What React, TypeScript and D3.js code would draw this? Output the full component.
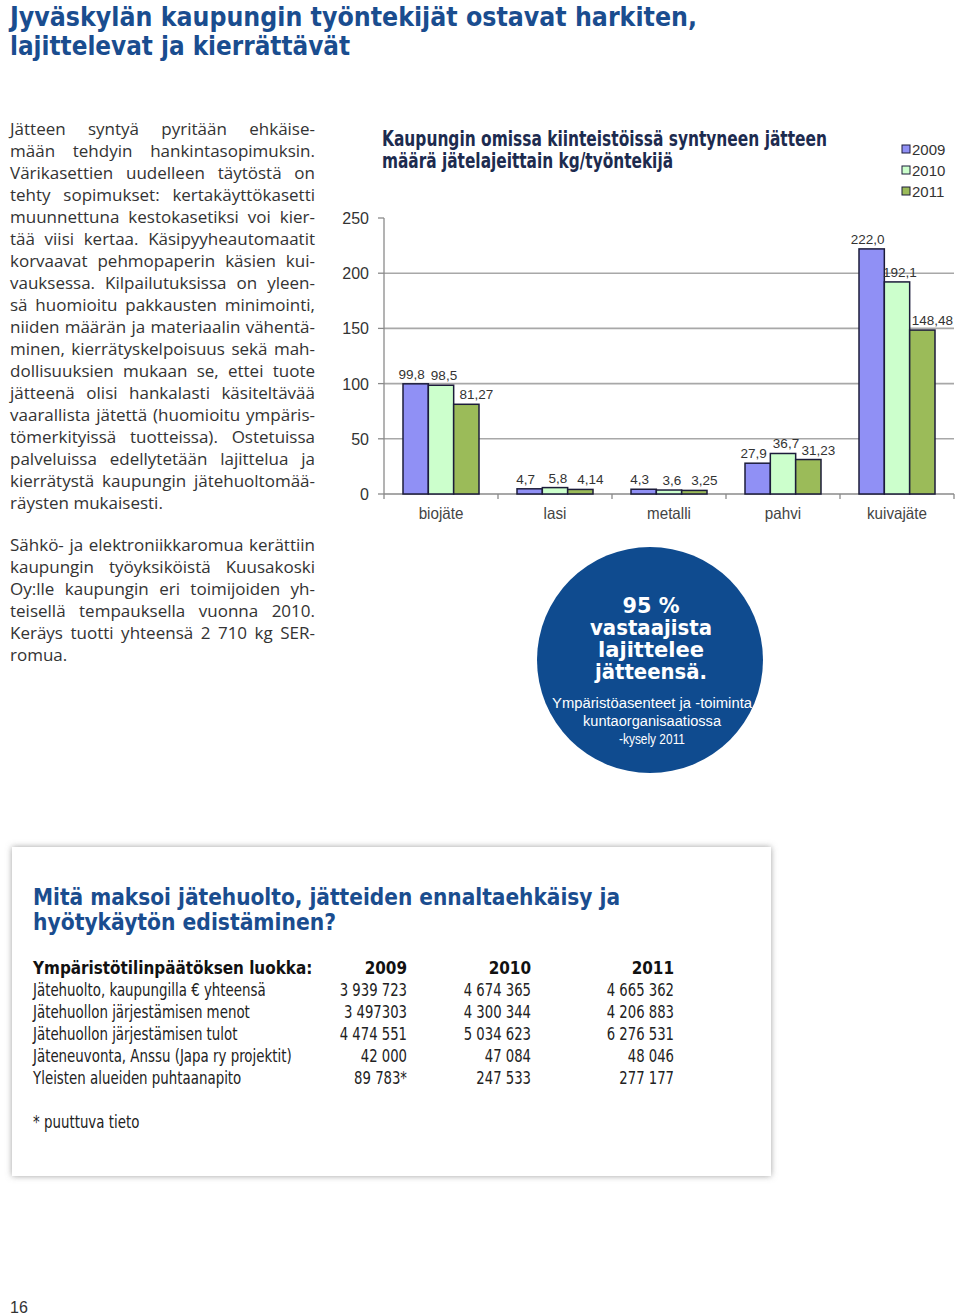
import React, { useEffect, useRef } from "react";
import * as d3 from "d3";

// ---------- data ----------
const categories = ["biojäte", "lasi", "metalli", "pahvi", "kuivajäte"];
const years = ["2009", "2010", "2011"];
const values2009 = [99.8, 4.7, 4.3, 27.9, 222.0];
const values2010 = [98.5, 5.8, 3.6, 36.7, 192.1];
const values2011 = [81.27, 4.14, 3.25, 31.23, 148.48];
const seriesDecimals = [1, 1, 2];
const yTicks = [0, 50, 100, 150, 200, 250];

const headingLines = ["Jyväskylän kaupungin työntekijät ostavat harkiten,", "lajittelevat ja kierrättävät"];
const chartTitleLines = ["Kaupungin omissa kiinteistöissä syntyneen jätteen", "määrä jätelajeittain kg/työntekijä"];

const paragraph1 = [
  "Jätteen syntyä pyritään ehkäise-",
  "mään tehdyin hankintasopimuksin.",
  "Värikasettien uudelleen täytöstä on",
  "tehty sopimukset: kertakäyttökasetti",
  "muunnettuna kestokasetiksi voi kier-",
  "tää viisi kertaa. Käsipyyheautomaatit",
  "korvaavat pehmopaperin käsien kui-",
  "vauksessa. Kilpailutuksissa on yleen-",
  "sä huomioitu pakkausten minimointi,",
  "niiden määrän ja materiaalin vähentä-",
  "minen, kierrätyskelpoisuus sekä mah-",
  "dollisuuksien mukaan se, ettei tuote",
  "jätteenä olisi hankalasti käsiteltävää",
  "vaarallista jätettä (huomioitu ympäris-",
  "tömerkityissä tuotteissa). Ostetuissa",
  "palveluissa edellytetään lajittelua ja",
  "kierrätystä kaupungin jätehuoltomää-",
  "räysten mukaisesti.",
];
const paragraph2 = [
  "Sähkö- ja elektroniikkaromua kerättiin",
  "kaupungin työyksiköistä Kuusakoski",
  "Oy:lle kaupungin eri toimijoiden yh-",
  "teisellä tempauksella vuonna 2010.",
  "Keräys tuotti yhteensä 2 710 kg SER-",
  "romua.",
];

const circleMain = ["95 %", "vastaajista", "lajittelee", "jätteensä."];
const circleSub = ["Ympäristöasenteet ja -toiminta", "kuntaorganisaatiossa", "-kysely 2011"];

const boxTitleLines = ["Mitä maksoi jätehuolto, jätteiden ennaltaehkäisy ja", "hyötykäytön edistäminen?"];
const tableHeader = "Ympäristötilinpäätöksen luokka:";
const tableYears = ["2009", "2010", "2011"];
const rowLabels = [
  "Jätehuolto, kaupungilla € yhteensä",
  "Jätehuollon järjestämisen menot",
  "Jätehuollon järjestämisen tulot",
  "Jäteneuvonta, Anssu (Japa ry projektit)",
  "Yleisten alueiden puhtaanapito",
];
const costs2009 = ["3 939 723", "3 497303", "4 474 551", "42 000", "89 783*"];
const costs2010 = ["4 674 365", "4 300 344", "5 034 623", "47 084", "247 533"];
const costs2011 = ["4 665 362", "4 206 883", "6 276 531", "48 046", "277 177"];
const footnote = "* puuttuva tieto";
const pageNumber = "16";

// ---------- styles ----------
const NARROW = "'Liberation Sans Narrow', 'DejaVu Sans Condensed', 'Liberation Sans', sans-serif";
const SANS = "'Liberation Sans', Arial, sans-serif";
const BODY = "'Open Sans', 'Liberation Sans', sans-serif";
const BLUE = "#1a4d8f";
const NAVY = "#1d2b4f";
const TEXT = "#333333";
const seriesColors = ["#9090f5", "#ccffcc", "#9bbb59"];
const labelDx = [-4, 3, 10];

type Sel = d3.Selection<SVGTextElement, unknown, null, undefined>;
const condense = (el: Sel, k: number) => {
  const w = (el.node() as SVGTextElement).getComputedTextLength();
  el.attr("textLength", w * k).attr("lengthAdjust", "spacingAndGlyphs");
};

export default function App() {
  const ref = useRef<SVGSVGElement | null>(null);

  useEffect(() => {
    document.body.style.margin = "0";
    const svg = d3.select(ref.current);
    svg.selectAll("*").remove();

    const defs = svg.append("defs");
    const f = defs.append("filter").attr("id", "shadow").attr("x", "-5%").attr("y", "-5%").attr("width", "110%").attr("height", "110%");
    f.append("feDropShadow").attr("dx", 0).attr("dy", 0).attr("stdDeviation", 3).attr("flood-color", "#7a7a7a").attr("flood-opacity", 0.7);

    svg.append("rect").attr("width", 960).attr("height", 1316).attr("fill", "#fff");

    // ---- page heading ----
    const headW = [687, 340];
    headingLines.forEach((t, i) => {
      svg.append("text").attr("x", 10).attr("y", 26 + i * 29).text(t)
        .attr("font-family", NARROW).attr("font-weight", "bold").attr("font-size", 27)
        .attr("fill", BLUE).attr("textLength", headW[i]).attr("lengthAdjust", "spacingAndGlyphs");
    });

    // ---- justified paragraphs ----
    const justify = (lines: string[], y0: number) => {
      lines.forEach((t, i) => {
        const el = svg.append("text").attr("x", 10).attr("y", y0 + i * 22).text(t)
          .attr("font-family", BODY).attr("font-size", 17).attr("fill", TEXT);
        if (i < lines.length - 1) {
          const node = el.node() as SVGTextElement;
          const w = node.getComputedTextLength();
          const spaces = (t.match(/ /g) || []).length;
          if (w > 305) {
            el.attr("textLength", 305).attr("lengthAdjust", "spacingAndGlyphs");
          } else if (spaces > 0) {
            el.style("word-spacing", `${(305 - w) / spaces}px`);
          }
        }
      });
    };
    justify(paragraph1, 135);
    justify(paragraph2, 551);

    // ---- chart ----
    const x0 = d3.scaleBand<string>().domain(categories).range([384, 954]);
    const x1 = d3.scaleBand<string>().domain(years).range([19, 95]);
    const y = d3.scaleLinear().domain([0, 250]).range([494, 218]);
    const g = svg.append("g");

    const ctW = [445, 291];
    chartTitleLines.forEach((t, i) => {
      g.append("text").attr("x", 382).attr("y", 146 + i * 22).text(t)
        .attr("font-family", NARROW).attr("font-weight", "bold").attr("font-size", 20.5)
        .attr("fill", NAVY).attr("textLength", ctW[i]).attr("lengthAdjust", "spacingAndGlyphs");
    });

    yTicks.filter((v) => v > 0 && v < 250).forEach((v) => {
      g.append("line").attr("x1", 384).attr("x2", 954).attr("y1", y(v)).attr("y2", y(v))
        .attr("stroke", "#a8a8a8").attr("stroke-width", 1.6);
    });
    g.append("line").attr("x1", 384).attr("x2", 384).attr("y1", y(250)).attr("y2", y(0)).attr("stroke", "#8a8a8a").attr("stroke-width", 1.3);
    yTicks.forEach((v) => {
      g.append("line").attr("x1", 378).attr("x2", 384).attr("y1", y(v)).attr("y2", y(v)).attr("stroke", "#8a8a8a").attr("stroke-width", 1.3);
      g.append("text").attr("x", 369).attr("y", y(v) + 6).attr("text-anchor", "end").text(String(v))
        .attr("font-family", SANS).attr("font-size", 16).attr("fill", "#333");
    });
    g.append("line").attr("x1", 384).attr("x2", 954).attr("y1", y(0)).attr("y2", y(0)).attr("stroke", "#8a8a8a").attr("stroke-width", 1.3);
    categories.forEach((c, i) => {
      const xs = x0(c)!;
      g.append("line").attr("x1", xs).attr("x2", xs).attr("y1", y(0)).attr("y2", y(0) + 5).attr("stroke", "#8a8a8a").attr("stroke-width", 1.3);
      if (i === categories.length - 1) {
        const xe = xs + x0.bandwidth();
        g.append("line").attr("x1", xe).attr("x2", xe).attr("y1", y(0)).attr("y2", y(0) + 5).attr("stroke", "#8a8a8a").attr("stroke-width", 1.3);
      }
      const lt = g.append("text").attr("x", xs + x0.bandwidth() / 2).attr("y", 519).attr("text-anchor", "middle").text(c)
        .attr("font-family", SANS).attr("font-size", 16.5).attr("fill", "#444");
      condense(lt as unknown as Sel, 0.92);
    });

    const series = [values2009, values2010, values2011];
    series.forEach((vals, si) => {
      vals.forEach((v, ci) => {
        const bx = x0(categories[ci])! + x1(years[si])!;
        const bw = x1.bandwidth();
        g.append("rect").attr("x", bx).attr("y", y(v)).attr("width", bw).attr("height", y(0) - y(v))
          .attr("fill", seriesColors[si]).attr("stroke", "#1c1c3a").attr("stroke-width", 1.5);
        g.append("text").attr("x", bx + bw / 2 + labelDx[si]).attr("y", y(v) - 5).attr("text-anchor", "middle")
          .text(v.toFixed(seriesDecimals[si]).replace(".", ","))
          .attr("font-family", SANS).attr("font-size", 13.5).attr("fill", "#333");
      });
    });

    years.forEach((yr, i) => {
      const ly = 149 + i * 21;
      g.append("rect").attr("x", 902).attr("y", ly - 4).attr("width", 8).attr("height", 8)
        .attr("fill", seriesColors[i]).attr("stroke", "#1c1c3a").attr("stroke-width", 1);
      g.append("text").attr("x", 912).attr("y", ly + 5.5).text(yr)
        .attr("font-family", SANS).attr("font-size", 15).attr("fill", "#333");
    });

    // ---- circle ----
    svg.append("circle").attr("cx", 650).attr("cy", 660).attr("r", 113).attr("fill", "#0f4b8f");
    const cmW = [57, 122, 106, 112];
    circleMain.forEach((t, i) => {
      svg.append("text").attr("x", 651).attr("y", 613 + i * 22).attr("text-anchor", "middle").text(t)
        .attr("font-family", "'DejaVu Sans', sans-serif").attr("font-weight", "bold").attr("font-size", 21)
        .attr("fill", "#fff").attr("textLength", cmW[i]).attr("lengthAdjust", "spacingAndGlyphs");
    });
    const csW = [200, 138, 66];
    circleSub.forEach((t, i) => {
      svg.append("text").attr("x", 652).attr("y", 708 + i * 18).attr("text-anchor", "middle").text(t)
        .attr("font-family", SANS).attr("font-size", 14).attr("fill", "#fff")
        .attr("textLength", csW[i]).attr("lengthAdjust", "spacingAndGlyphs");
    });

    // ---- box ----
    svg.append("rect").attr("x", 12).attr("y", 847).attr("width", 759).attr("height", 329)
      .attr("fill", "#fff").attr("filter", "url(#shadow)");
    const btW = [587, 303];
    boxTitleLines.forEach((t, i) => {
      svg.append("text").attr("x", 33).attr("y", 905 + i * 25).text(t)
        .attr("font-family", NARROW).attr("font-weight", "bold").attr("font-size", 22.5)
        .attr("fill", BLUE).attr("textLength", btW[i]).attr("lengthAdjust", "spacingAndGlyphs");
    });
    const colRight = [407, 531, 674];
    const hd = svg.append("text").attr("x", 33).attr("y", 974).text(tableHeader)
      .attr("font-family", NARROW).attr("font-weight", "bold").attr("font-size", 18).attr("fill", "#111");
    condense(hd as unknown as Sel, 0.94);
    tableYears.forEach((yr, i) => {
      const t = svg.append("text").attr("x", colRight[i]).attr("y", 974).attr("text-anchor", "end").text(yr)
        .attr("font-family", NARROW).attr("font-weight", "bold").attr("font-size", 18).attr("fill", "#111");
      condense(t as unknown as Sel, 0.94);
    });
    const cols = [costs2009, costs2010, costs2011];
    rowLabels.forEach((lab, r) => {
      const ry = 996 + r * 22;
      const lt = svg.append("text").attr("x", 33).attr("y", ry).text(lab)
        .attr("font-family", NARROW).attr("font-size", 17.5).attr("fill", "#222");
      condense(lt as unknown as Sel, 0.85);
      cols.forEach((col, c) => {
        const nt = svg.append("text").attr("x", colRight[c]).attr("y", ry).attr("text-anchor", "end").text(col[r])
          .attr("font-family", NARROW).attr("font-size", 17.5).attr("fill", "#222");
        condense(nt as unknown as Sel, 0.84);
      });
    });
    const fn = svg.append("text").attr("x", 33).attr("y", 1128).text(footnote)
      .attr("font-family", NARROW).attr("font-size", 17.5).attr("fill", "#222");
    condense(fn as unknown as Sel, 0.85);

    svg.append("text").attr("x", 10).attr("y", 1313).text(pageNumber)
      .attr("font-family", SANS).attr("font-size", 16).attr("fill", "#333");
  }, []);

  return <svg ref={ref} width={960} height={1316} style={{ display: "block" }} />;
}
